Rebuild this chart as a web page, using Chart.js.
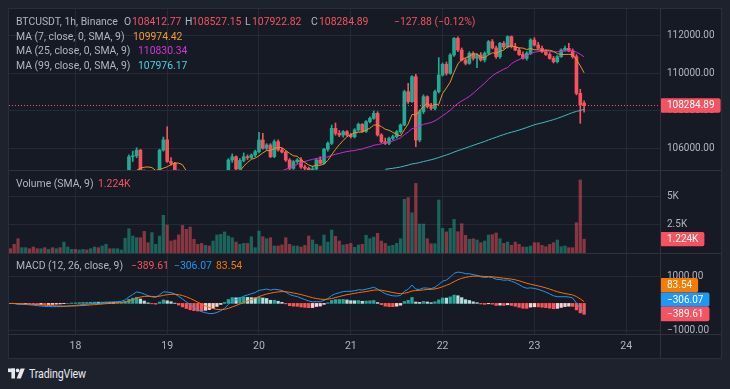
<!DOCTYPE html>
<html>
<head>
<meta charset="utf-8">
<script src="https://cdn.jsdelivr.net/npm/chart.js@4.4.1/dist/chart.umd.min.js"></script>
<style>
html,body{margin:0;padding:0;background:#1e222d;width:730px;height:389px;overflow:hidden;font-family:Roboto,"Noto Sans",sans-serif;}
#frame{position:absolute;left:8px;top:8px;width:714px;height:351px;background:#161a25;border:1px solid #2a2e39;box-sizing:border-box;}
canvas{position:absolute;}
.hl{position:absolute;left:9px;width:712px;height:1px;background:#2e323e;}
.vl{position:absolute;top:9px;width:1px;height:349px;background:#2e323e;}
.t{position:absolute;font-size:10.4px;line-height:14px;color:#b2b5be;white-space:pre;}
#logo{position:absolute;left:8px;top:368px;}
#tvtext{position:absolute;left:29px;top:366px;font-size:13px;line-height:16px;color:#e6e8ee;transform:scaleX(0.82);transform-origin:left center;letter-spacing:-0.2px;}
</style>
</head>
<body>
<div id="frame"></div>
<canvas id="cPrice" width="712" height="161" style="left:9px;top:9px;width:712px;height:161px"></canvas>
<canvas id="cVol" width="712" height="82" style="left:9px;top:171px;width:712px;height:82px"></canvas>
<canvas id="cMacd" width="712" height="104" style="left:9px;top:254px;width:712px;height:104px"></canvas>
<div class="hl" style="top:170px"></div>
<div class="hl" style="top:253px"></div>
<div class="hl" style="top:334px"></div>
<div class="vl" style="left:660px"></div>

<div class="t" style="left:16px;top:15px">BTCUSDT, 1h, Binance</div>
<div class="t" style="left:124px;top:15px">O</div><div class="t" style="left:132px;top:15px;color:#f7525f">108412.77</div>
<div class="t" style="left:185px;top:15px">H</div><div class="t" style="left:192px;top:15px;color:#f7525f">108527.15</div>
<div class="t" style="left:245px;top:15px">L</div><div class="t" style="left:252px;top:15px;color:#f7525f">107922.82</div>
<div class="t" style="left:311px;top:15px">C</div><div class="t" style="left:319px;top:15px;color:#f7525f">108284.89</div>
<div class="t" style="left:394px;top:15px;color:#f7525f">−127.88 (−0.12%)</div>
<div class="t" style="left:16px;top:29.5px">MA (7, close, 0, SMA, 9)</div><div class="t" style="left:133px;top:29.5px;color:#f29b2a">109974.42</div>
<div class="t" style="left:16px;top:44px">MA (25, close, 0, SMA, 9)</div><div class="t" style="left:138px;top:44px;color:#d136d1">110830.34</div>
<div class="t" style="left:16px;top:58.5px">MA (99, close, 0, SMA, 9)</div><div class="t" style="left:138px;top:58.5px;color:#4fd0e0">107976.17</div>
<div class="t" style="left:16px;top:177px">Volume (SMA, 9)</div><div class="t" style="left:98px;top:177px;color:#f7525f">1.224K</div>
<div class="t" style="left:16px;top:259px">MACD (12, 26, close, 9)</div>
<div class="t" style="left:131px;top:259px;color:#f7525f">−389.61</div>
<div class="t" style="left:174px;top:259px;color:#2196f3">−306.07</div>
<div class="t" style="left:216px;top:259px;color:#f57c00">83.54</div>

<svg id="logo" width="17" height="11" viewBox="0 0 17 11">
  <rect x="0" y="0.5" width="7" height="3.6" fill="#e6e8ee"/>
  <rect x="3.4" y="0.5" width="3.6" height="10" fill="#e6e8ee"/>
  <circle cx="9.6" cy="2.4" r="1.9" fill="#e6e8ee"/>
  <polygon points="12.6,0.5 16.8,0.5 12.8,10.5 8.6,10.5" fill="#e6e8ee"/>
</svg>
<div id="tvtext">TradingView</div>

<script>
// ---------------- DATA (hourly candles, hour 0 = 18th 00:00) ----------------
const START_HOUR = -17;
const opens = [
104000,103950,103850,103650,103750,103800,103700,103600,103500,103550,
103450,103500,103450,103550,103500,103600,103650,103700,103650,103750,
103800,103750,103850,103900,103850,103950,104000,103900,104000,104050,
104100,104600,105550,105600,105900,104800,104400,104200,104350,104500,
105900,106450,105300,105200,104800,104300,103900,103600,103300,103100,
103000,102900,103100,103000,103300,103700,104100,104500,105376,105553,
104900,105350,105553,105500,105643,105820,106443,106000,106176,105553,
106353,105910,105800,105376,104933,105286,105376,105000,104933,104850,
104900,105376,105200,105950,106267,107067,106800,106709,106886,106709,
106620,106980,107278,106900,107420,107598,107865,106709,106353,106264,
106531,106620,106886,107243,109020,108487,109820,106442,107953,108754,
108220,108131,109020,109909,110478,109998,110976,111865,111243,110709,
110531,111065,110800,110976,110709,111065,111687,111350,110887,111598,
111400,111954,111420,111243,111000,110798,111065,111776,111509,111331,
111154,111000,110798,110620,110887,111243,111331,111200,110887,108931,
108412.77];
const highs = [
104080,104000,103900,103800,103860,103830,103750,103650,103600,103580,
103550,103530,103600,103600,103700,103700,103750,103730,103780,103830,
103820,103880,103950,103920,104000,104050,104020,104030,104080,104130,
104700,105650,105850,106030,105950,104850,104500,104450,104600,105950,
106600,107150,105500,105250,104850,104350,104000,103700,103400,103200,
103100,103200,103150,103400,103800,104200,104600,105450,105700,105600,
105450,105750,105650,105700,105900,106854,106800,106250,106250,106450,
106450,106000,105850,105450,105350,105450,105500,105100,105000,105050,
105450,105550,106000,106350,107243,107350,106950,106950,106950,106800,
107050,107350,107320,107480,107680,107989,107950,106780,106550,106600,
106700,106950,107300,109100,109465,109873,109950,108050,108850,108800,
108400,109100,110834,110550,110600,111050,111900,111950,111350,110800,
111150,111150,111050,111100,111150,111750,111800,111450,111650,111700,
112000,111990,111600,111350,111150,111150,111850,111900,111650,111450,
111250,111100,110900,110950,111300,111450,111600,111300,111000,109150,
108527.15];
const lows = [
103900,103800,103550,103600,103700,103650,103550,103450,103450,103400,
103420,103400,103430,103450,103480,103550,103600,103600,103630,103720,
103700,103730,103820,103800,103830,103920,103850,103880,103980,104020,
104080,104550,105300,105500,104700,104300,104100,104150,104300,104450,
105850,105250,105100,104650,104200,103800,103500,103200,103000,102900,
102800,102850,102900,102950,103250,103650,104000,104450,105250,104750,
104850,105280,105400,105450,105550,105750,105950,105900,105500,105500,
105850,105750,105300,104850,104880,105200,104930,104850,104780,104750,
104850,105150,105150,105850,106200,106700,106620,106600,106650,106550,
106550,106900,106850,106850,107350,107550,106650,106300,106200,106200,
106450,106550,106800,107200,108400,108450,106086,106350,107850,108150,
108050,108050,108950,109850,109900,109950,110900,111150,110650,110450,
110480,110700,110300,110650,110600,111000,111300,110800,110800,111300,
111350,111350,111200,110950,110750,110700,111000,111450,111280,111100,
110950,110750,110550,110550,110850,111200,111150,110800,108850,107331,
107922.82];
const closes = [
103950,103850,103650,103750,103800,103700,103600,103500,103550,103450,
103500,103450,103550,103500,103600,103650,103700,103650,103750,103800,
103750,103850,103900,103850,103950,104000,103900,104000,104050,104100,
104600,105550,105600,105900,104800,104400,104200,104350,104500,105900,
106450,105300,105200,104800,104300,103900,103600,103300,103100,103000,
102900,103100,103000,103300,103700,104100,104500,105376,105553,104900,
105350,105553,105500,105643,105820,106443,106000,106176,105553,106353,
105910,105800,105376,104933,105286,105376,105000,104933,104850,104900,
105376,105200,105950,106267,107067,106800,106709,106886,106709,106620,
106980,107278,106900,107420,107598,107865,106709,106353,106264,106531,
106620,106886,107243,109020,108487,109820,106442,107953,108754,108220,
108131,109020,109909,110478,109998,110976,111865,111243,110709,110531,
111065,110800,110976,110709,111065,111687,111350,110887,111598,111400,
111954,111420,111243,111000,110798,111065,111776,111509,111331,111154,
111000,110798,110620,110887,111243,111331,111200,110887,108931,108309,
108284.89];
const volumes = [
380,770,1260,470,470,380,530,380,380,470,
320,470,380,470,970,530,320,320,270,320,
270,380,530,470,620,770,380,380,380,270,
1300,2150,1500,1350,1350,1910,910,1800,770,1500,
3330,2470,1060,1150,1600,2440,2090,2290,1210,770,
850,680,620,1060,1590,1650,1860,1500,1350,970,
770,850,850,1440,470,1940,1440,1260,1350,620,
620,710,1350,770,620,620,530,680,1500,1150,
770,620,1590,970,2030,1470,1060,710,770,850,
500,710,770,1560,1260,1410,1740,1060,850,620,
680,850,1260,4740,4890,3560,6150,2560,2560,1260,
820,820,4680,2180,1860,2180,2970,1880,2590,1560,
1210,1260,1150,910,1060,1590,1620,1770,1260,850,
970,680,970,770,530,530,620,910,910,680,
560,770,910,1150,560,620,470,470,2680,6450,
1224];
// axis ticks and labels
const dayTicks = [0,24,48,72,96,120,144];
const dayLabels = ['18','19','20','21','22','23','24'];
const priceTicks = [106000,108000,110000,112000];
const volumeTicks = [2500,5000];
const macdTicks = [-1000,1000];
// legend values as shown
const lastMacd = -306.07, lastSignal = 83.54, lastHist = -389.61;

// ---------------- layout/style config ----------------
const X_MIN = -17.36, X_MAX = 152.84;
const FONT = 'Roboto';
const TXT = '#b2b5be';
const GRID = '#252935';
const UP = '#22ab94', DOWN = '#f7525f';
const UP_V = 'rgba(34,171,148,0.5)', DOWN_V = 'rgba(247,82,95,0.5)';

const hours = opens.map((_, i) => START_HOUR + i);
const isUp = closes.map((c, i) => c >= opens[i]);
const candleColors = isUp.map(u => u ? UP : DOWN);
const volColors = isUp.map(u => u ? UP_V : DOWN_V);

function sma(arr, n) {
  return arr.map((v, i) => {
    if (i < n - 1) return null;
    let s = 0; for (let k = i - n + 1; k <= i; k++) s += arr[k];
    return s / n;
  });
}
function ema(arr, n) {
  const k = 2 / (n + 1); let e = null;
  return arr.map(v => (e = (e === null ? v : v * k + e * (1 - k))));
}
const ma7 = sma(closes, 7), ma25 = sma(closes, 25), ma99 = sma(closes, 99);
const e12 = ema(closes, 12), e26 = ema(closes, 26);
const macd = e12.map((v, i) => v - e26[i]);
const signal = ema(macd, 9);
const hist = macd.map((v, i) => v - signal[i]);
const histColors = hist.map((v, i) => {
  const p = i > 0 ? hist[i - 1] : v;
  if (v >= 0) return v > p ? '#26a69a' : '#b2dfdb';
  return v < p ? '#ff5252' : '#ffcdd2';
});

const pts = arr => hours.map((h, i) => ({x: h, y: arr[i]}));

function opts(yMin, yMax, yTicks, fmt, showX) {
  return {
    responsive: false, animation: false, devicePixelRatio: 1, events: [],
    layout: {padding: 0},
    plugins: {legend: {display: false}, tooltip: {enabled: false}},
    scales: {
      x: {
        type: 'linear', min: X_MIN, max: X_MAX, offset: false,
        afterBuildTicks: s => { s.ticks = dayTicks.map(v => ({value: v})); },
        afterFit: s => { s.height = showX ? 24 : 0; s.paddingLeft = 0; s.paddingRight = 0; },
        grid: {color: GRID, drawTicks: false, offset: false},
        border: {display: false},
        ticks: {display: showX, padding: 6, color: TXT, font: {family: FONT, size: 10.5},
                maxRotation: 0, autoSkip: false,
                callback: v => dayLabels[dayTicks.indexOf(v)]}
      },
      y: {
        position: 'right', min: yMin, max: yMax,
        afterBuildTicks: s => { s.ticks = yTicks.map(v => ({value: v})); },
        afterFit: s => { s.width = 61; s.paddingTop = 0; s.paddingBottom = 0; },
        grid: {color: GRID, drawTicks: false},
        border: {display: false},
        ticks: {padding: 7, color: TXT, font: {family: FONT, size: 10}, callback: fmt}
      }
    }
  };
}

function drawBoxes(chart, items) {
  const ctx = chart.ctx, ca = chart.chartArea, H = 14.4;
  ctx.save();
  ctx.font = '10px ' + FONT;
  const arr = items.map(o => Object.assign({}, o)).sort((a, b) => a.y - b.y);
  for (let i = arr.length - 2; i >= 0; i--) {
    if (arr[i].y > arr[i + 1].y - H) arr[i].y = arr[i + 1].y - H;
  }
  arr.forEach(it => {
    const w = ctx.measureText(it.text).width + 13;
    ctx.fillStyle = it.bg;
    ctx.beginPath();
    if (ctx.roundRect) ctx.roundRect(ca.right, it.y - H / 2, w, H, 2); else ctx.rect(ca.right, it.y - H / 2, w, H);
    ctx.fill();
    ctx.fillStyle = '#ffffff';
    ctx.textBaseline = 'middle'; ctx.textAlign = 'left';
    ctx.fillText(it.text, ca.right + 7, it.y + 0.5);
  });
  ctx.restore();
}
const fmtSigned = v => (v < 0 ? '−' : '') + Math.abs(v).toFixed(2);

// ---------------- price pane ----------------
const last = closes.length - 1;
new Chart(document.getElementById('cPrice'), {
  type: 'bar',
  data: {datasets: [
    {type: 'line', data: pts(ma7), borderColor: '#e8952c', borderWidth: 1, pointRadius: 0, order: 0, spanGaps: false},
    {type: 'line', data: pts(ma25), borderColor: '#c62fcf', borderWidth: 1, pointRadius: 0, order: 0, spanGaps: false},
    {type: 'line', data: pts(ma99), borderColor: '#45b7c4', borderWidth: 1, pointRadius: 0, order: 0, spanGaps: false},
    {data: hours.map((h, i) => ({x: h, y: [opens[i], closes[i]]})), backgroundColor: candleColors,
     barThickness: 3, grouped: false, order: 1},
    {data: hours.map((h, i) => ({x: h, y: [lows[i], highs[i]]})), backgroundColor: candleColors,
     barThickness: 1, grouped: false, order: 2}
  ]},
  options: opts(104843, 113429, priceTicks, v => v.toFixed(2), false),
  plugins: [{
    id: 'priceLine',
    afterDraw(chart) {
      const ctx = chart.ctx, ca = chart.chartArea;
      const y = Math.round(chart.scales.y.getPixelForValue(closes[last])) + 0.5;
      ctx.save();
      ctx.strokeStyle = DOWN; ctx.lineWidth = 1; ctx.setLineDash([1, 2]);
      ctx.beginPath(); ctx.moveTo(ca.left, y); ctx.lineTo(ca.right, y); ctx.stroke();
      ctx.restore();
      drawBoxes(chart, [{y: chart.scales.y.getPixelForValue(closes[last]), text: closes[last].toFixed(2), bg: DOWN}]);
    }
  }]
});

// ---------------- volume pane ----------------
new Chart(document.getElementById('cVol'), {
  type: 'bar',
  data: {datasets: [
    {data: hours.map((h, i) => ({x: h, y: volumes[i]})), backgroundColor: volColors, barThickness: 2.6, grouped: false}
  ]},
  options: opts(0, 7244, volumeTicks, v => (v / 1000) + 'K', false),
  plugins: [{
    id: 'volBox',
    afterDraw(chart) {
      drawBoxes(chart, [{y: chart.scales.y.getPixelForValue(volumes[last]), text: (volumes[last] / 1000).toFixed(3) + 'K', bg: DOWN}]);
    }
  }]
});

// ---------------- MACD pane ----------------
new Chart(document.getElementById('cMacd'), {
  type: 'bar',
  data: {datasets: [
    {type: 'line', data: pts(signal), borderColor: '#ff6d00', borderWidth: 1, pointRadius: 0, order: 0},
    {type: 'line', data: pts(macd), borderColor: '#2196f3', borderWidth: 1, pointRadius: 0, order: 1},
    {data: pts(hist), backgroundColor: histColors, barThickness: 2.6, grouped: false, order: 2}
  ]},
  options: opts(-1125, 1816, macdTicks, fmtSigned, true),
  plugins: [{
    id: 'macdBoxes',
    afterDraw(chart) {
      const ctx = chart.ctx, ca = chart.chartArea, ys = chart.scales.y;
      ctx.save();
      ctx.fillStyle = '#161a25';
      ctx.fillRect(ca.right, ca.bottom, chart.width - ca.right, chart.height - ca.bottom);
      ctx.restore();
      drawBoxes(chart, [
        {y: ys.getPixelForValue(lastSignal), text: fmtSigned(lastSignal), bg: '#f57c00'},
        {y: ys.getPixelForValue(lastMacd), text: fmtSigned(lastMacd), bg: '#2196f3'},
        {y: ys.getPixelForValue(lastHist), text: fmtSigned(lastHist), bg: '#f7525f'}
      ]);
    }
  }]
});
</script>
</body>
</html>
